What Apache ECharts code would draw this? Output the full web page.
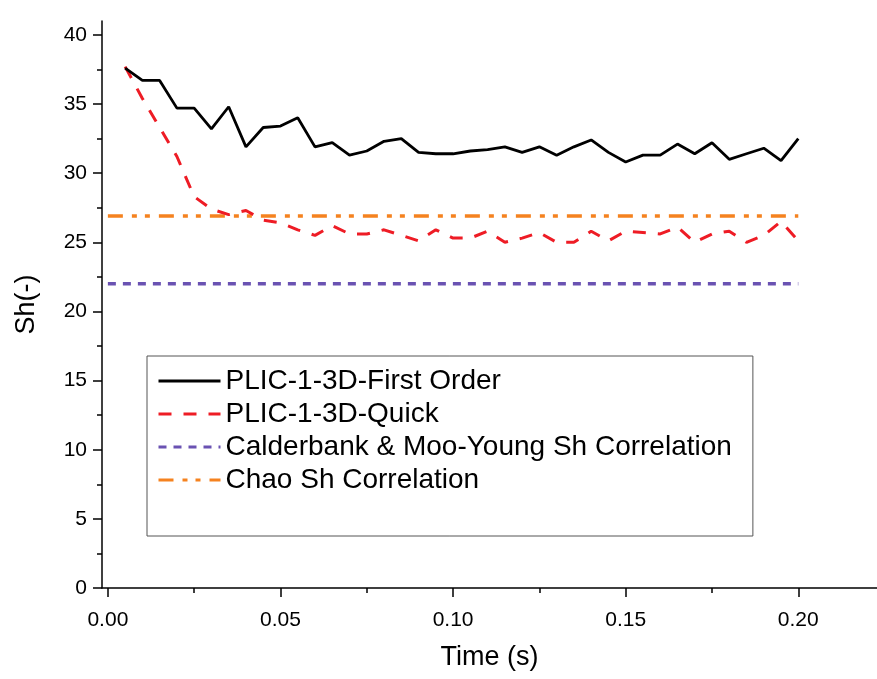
<!DOCTYPE html>
<html><head><meta charset="utf-8">
<script src="https://cdn.jsdelivr.net/npm/echarts@6/dist/echarts.min.js"></script>
<style>html,body{margin:0;padding:0;background:#fff}#c{width:877px;height:679px}</style>
</head><body><div id="c"></div>
<script>
const times = [0.005,0.010,0.015,0.020,0.025,0.030,0.035,0.040,0.045,0.050,
  0.055,0.060,0.065,0.070,0.075,0.080,0.085,0.090,0.095,0.100,
  0.105,0.110,0.115,0.120,0.125,0.130,0.135,0.140,0.145,0.150,
  0.155,0.160,0.165,0.170,0.175,0.180,0.185,0.190,0.195,0.200];
const firstOrder = [37.6,36.7,36.7,34.7,34.7,33.2,34.8,31.9,33.3,33.4,
  34.0,31.9,32.2,31.3,31.6,32.3,32.5,31.5,31.4,31.4,
  31.6,31.7,31.9,31.5,31.9,31.3,31.9,32.4,31.5,30.8,
  31.3,31.3,32.1,31.4,32.2,31.0,31.4,31.8,30.9,32.5];
const quick = [37.7,35.4,33.3,31.2,28.3,27.4,27.0,27.3,26.6,26.4,
  25.9,25.5,26.2,25.6,25.6,25.9,25.5,25.1,25.9,25.3,
  25.3,25.8,25.0,25.3,25.7,25.0,25.0,25.8,25.1,25.8,
  25.7,25.6,26.1,25.0,25.6,25.8,25.0,25.5,26.5,25.1];
const calderbankValue = 22.0;
const chaoValue = 26.9;
const correlationSpan = [0, 0.20];
const seriesNames = ['PLIC-1-3D-First Order','PLIC-1-3D-Quick','Calderbank & Moo-Young Sh Correlation','Chao Sh Correlation'];
const xTickValues = [0, 0.05, 0.10, 0.15, 0.20];
const xMinorValues = [0.025, 0.075, 0.125, 0.175];
const yTickValues = [0,5,10,15,20,25,30,35,40];
const yMinorValues = [2.5,7.5,12.5,17.5,22.5,27.5,32.5,37.5];

const FONT = 'Liberation Sans, Arial, sans-serif';
const X_MIN = -0.0017, X_MAX = 0.2228, Y_MIN = 0, Y_MAX = 41;
const axisLineStyle = {color:'#000', width:1.5};

const chart = echarts.init(document.getElementById('c'), null, {renderer:'canvas'});
chart.setOption({
  animation:false,
  backgroundColor:'#fff',
  grid:{left:102, right:0, top:21, bottom:91, outerBoundsMode:'none'},
  legend:{
    orient:'vertical', left:147, top:356,
    padding:[11,21,42,10],
    borderColor:'#555', borderWidth:1,
    itemWidth:62, itemHeight:14, itemGap:5,
    selectedMode:false,
    itemStyle:{opacity:0},
    lineStyle:{width:3},
    textStyle:{fontFamily:FONT, fontSize:28, lineHeight:28, color:'#000'},
    data:seriesNames
  },
  xAxis:[{
    type:'value', min:X_MIN, max:X_MAX, position:'bottom',
    name:'Time (s)', nameLocation:'middle', nameGap:56,
    nameTextStyle:{fontFamily:FONT, fontSize:27, color:'#000'},
    axisLine:{show:true, onZero:false, lineStyle:axisLineStyle},
    axisTick:{show:true, inside:false, length:9, customValues:xTickValues, lineStyle:axisLineStyle},
    axisLabel:{customValues:xTickValues, margin:22, fontFamily:FONT, fontSize:21, color:'#000',
      formatter:v=>v.toFixed(2)},
    splitLine:{show:false}
  },{
    type:'value', min:X_MIN, max:X_MAX, position:'bottom',
    axisLine:{show:false, onZero:false},
    axisTick:{show:true, inside:false, length:5, customValues:xMinorValues, lineStyle:axisLineStyle},
    axisLabel:{show:false}, splitLine:{show:false}
  }],
  yAxis:[{
    type:'value', min:Y_MIN, max:Y_MAX, position:'left',
    name:'Sh(-)', nameLocation:'middle', nameGap:62,
    nameTextStyle:{fontFamily:FONT, fontSize:27, color:'#000'},
    axisLine:{show:true, onZero:false, lineStyle:axisLineStyle},
    axisTick:{show:true, inside:false, length:9, customValues:yTickValues, lineStyle:axisLineStyle},
    axisLabel:{customValues:yTickValues, margin:15, fontFamily:FONT, fontSize:21, color:'#000'},
    splitLine:{show:false}
  },{
    type:'value', min:Y_MIN, max:Y_MAX, position:'left',
    axisLine:{show:false, onZero:false},
    axisTick:{show:true, inside:false, length:5, customValues:yMinorValues, lineStyle:axisLineStyle},
    axisLabel:{show:false}, splitLine:{show:false}
  }],
  series:[
    {name:seriesNames[0], type:'line', symbol:'none', xAxisIndex:0, yAxisIndex:0,
      data:times.map((t,i)=>[t, firstOrder[i]]),
      lineStyle:{color:'#000', width:2.8}, itemStyle:{color:'#000'}, z:5},
    {name:seriesNames[1], type:'line', symbol:'none', xAxisIndex:0, yAxisIndex:0,
      data:times.map((t,i)=>[t, quick[i]]),
      lineStyle:{color:'#EE1C25', width:3, type:[13,12]}, itemStyle:{color:'#EE1C25'}, z:4},
    {name:seriesNames[2], type:'line', symbol:'none', xAxisIndex:0, yAxisIndex:0,
      data:correlationSpan.map(t=>[t, calderbankValue]),
      lineStyle:{color:'#6A52B2', width:3.5, type:[8,7]}, itemStyle:{color:'#6A52B2'}, z:3},
    {name:seriesNames[3], type:'line', symbol:'none', xAxisIndex:0, yAxisIndex:0,
      data:correlationSpan.map(t=>[t, chaoValue]),
      lineStyle:{color:'#F5821F', width:3.5, type:[15,9,5,8,5,9]}, itemStyle:{color:'#F5821F'}, z:3}
  ]
});
</script>
</body></html>
